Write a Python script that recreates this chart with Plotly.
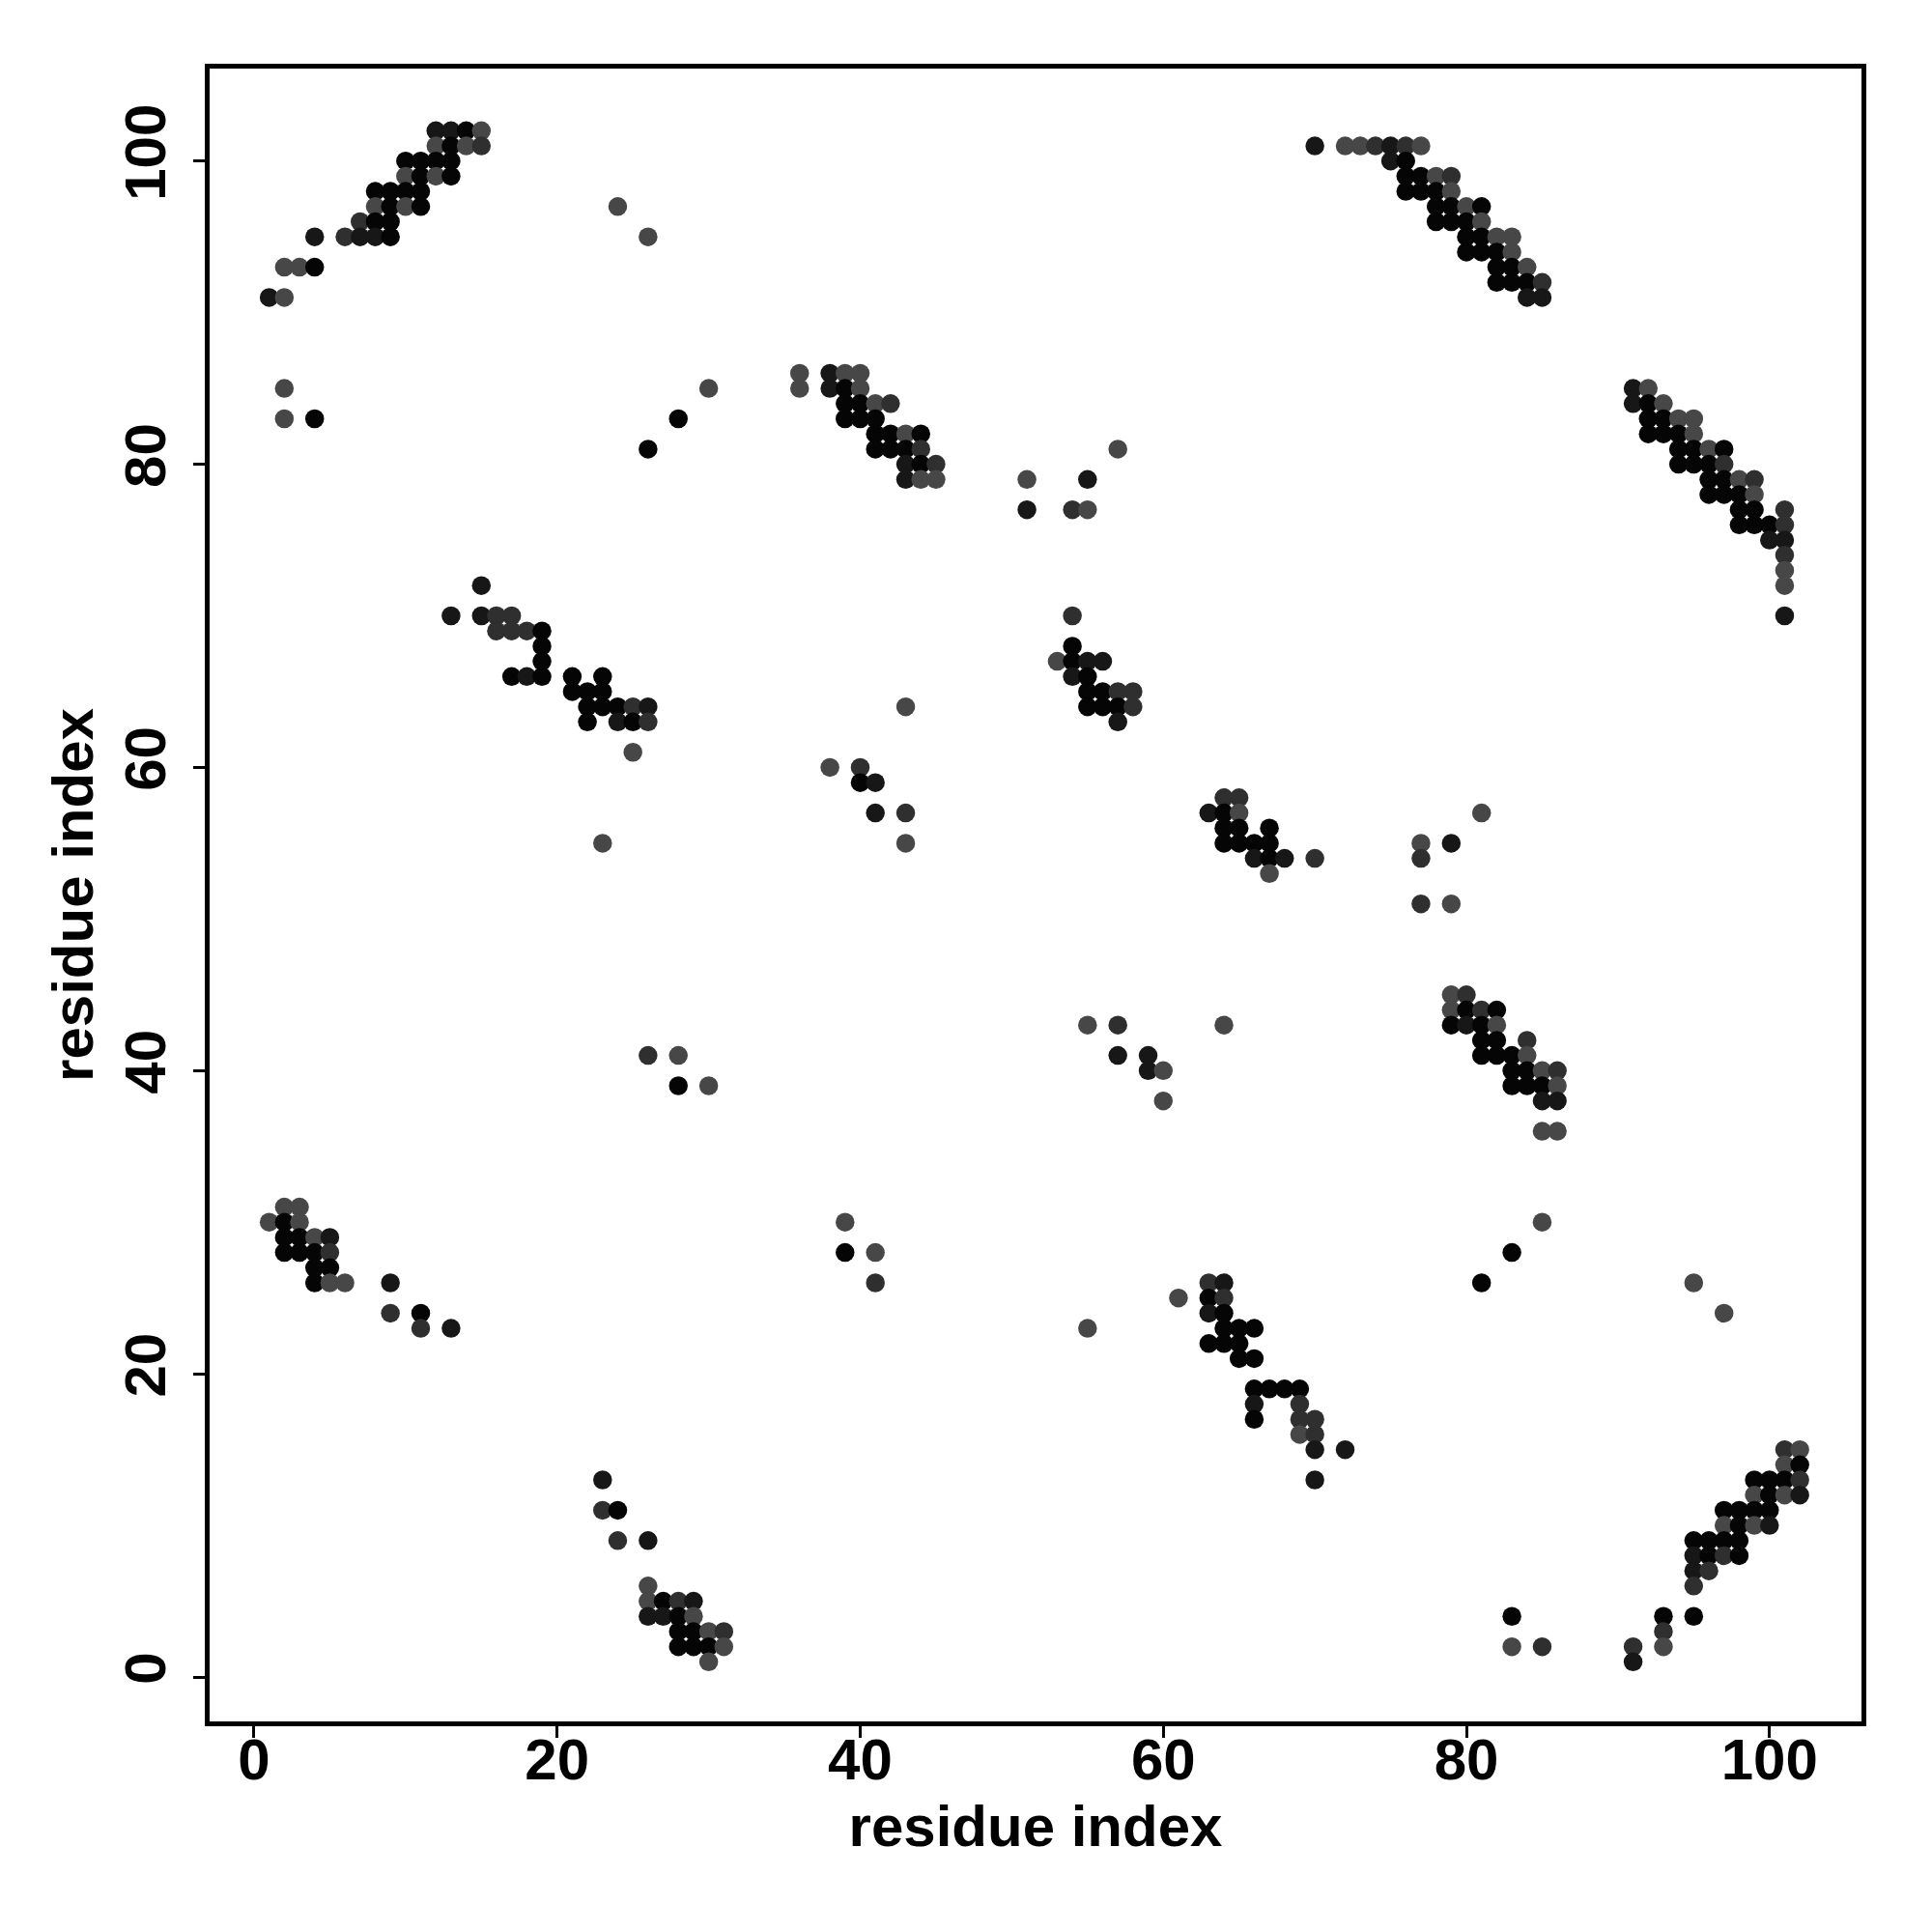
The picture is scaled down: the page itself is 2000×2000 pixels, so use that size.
import plotly.graph_objects as go

# Contact score levels read from the shading of each dot
K, D, M, G = 1.0, 0.85, 0.65, 0.45

# (residue i, residue j, score) per cluster
top_left = [
    (12,102,D),(13,102,D),(14,102,K),(15,102,G),
    (12,101,G),(13,101,K),(14,101,G),(15,101,M),
    (10,100,K),(11,100,K),(12,100,K),(13,100,K),
    (10,99,G),(11,99,K),(12,99,G),(13,99,K),
    (8,98,K),(9,98,K),(10,98,K),(11,98,K),
    (8,97,G),(9,97,K),(10,97,G),(11,97,K),
    (7,96,M),(8,96,K),(9,96,K),
    (4,95,D),(6,95,M),(7,95,D),(8,95,D),(9,95,K),
    (2,93,G),(3,93,G),(4,93,K),
    (1,91,D),(2,91,G),
    (2,85,G),(2,83,G),(4,83,K),
    (24,97,G),(26,95,G),(26,81,K),(30,85,G),(28,83,K),
]
upper_mid = [
    (36,86,G),(38,86,D),(39,86,G),(40,86,G),
    (36,85,G),(38,85,D),(39,85,K),(40,85,G),
    (39,84,K),(40,84,K),(41,84,G),(42,84,M),
    (39,83,K),(40,83,K),(41,83,K),
    (41,82,K),(42,82,K),(43,82,G),(44,82,K),
    (41,81,K),(42,81,K),(43,81,K),(44,81,M),
    (43,80,D),(44,80,K),(45,80,M),
    (43,79,D),(44,79,G),(45,79,G),
    (51,79,G),(51,77,D),(55,79,D),(54,77,M),(55,77,G),(57,81,G),
]
top_right = [
    (70,101,D),(72,101,G),(73,101,G),(74,101,M),(75,101,D),(76,101,M),(77,101,G),
    (75,100,D),(76,100,K),
    (76,99,K),(77,99,K),(78,99,G),(79,99,M),
    (76,98,K),(77,98,K),(78,98,K),(79,98,G),
    (78,97,K),(79,97,K),(80,97,G),(81,97,K),
    (78,96,K),(79,96,K),(80,96,K),(81,96,G),
    (80,95,K),(81,95,K),(82,95,G),(83,95,G),
    (80,94,K),(81,94,K),(82,94,K),(83,94,G),
    (82,93,K),(83,93,K),(84,93,G),
    (82,92,K),(83,92,K),(84,92,K),(85,92,M),
    (84,91,D),(85,91,D),
]
right_upper = [
    (91,85,D),(92,85,G),
    (91,84,D),(92,84,K),(93,84,G),
    (92,83,K),(93,83,K),(94,83,G),(95,83,G),
    (92,82,K),(93,82,K),(94,82,K),(95,82,G),
    (94,81,K),(95,81,K),(96,81,G),(97,81,K),
    (94,80,K),(95,80,K),(96,80,K),(97,80,M),
    (96,79,K),(97,79,K),(98,79,G),(99,79,M),
    (96,78,K),(97,78,K),(98,78,K),(99,78,G),
    (98,77,K),(99,77,K),(101,77,M),
    (98,76,K),(99,76,K),(100,76,K),(101,76,M),
    (100,75,D),(101,75,D),
    (101,74,M),(101,73,G),(101,72,G),(101,70,D),
]
left_mid = [
    (15,72,D),
    (13,70,D),(15,70,D),(16,70,M),(17,70,M),
    (16,69,M),(17,69,M),(18,69,M),(19,69,K),
    (19,68,K),(19,67,K),
    (17,66,K),(18,66,D),(19,66,K),(21,66,K),(23,66,K),
    (21,65,K),(22,65,K),(23,65,K),
    (22,64,K),(23,64,K),(24,64,K),(25,64,M),(26,64,D),
    (22,63,K),(24,63,D),(25,63,K),(26,63,M),
    (25,61,G),(23,55,G),
    (43,64,G),
    (38,60,G),(40,60,M),(40,59,K),(41,59,D),(41,57,D),(43,57,M),(43,55,G),
    (26,41,M),(28,41,G),(28,39,K),(30,39,G),
]
center = [
    (54,70,M),(54,68,K),
    (53,67,G),(54,67,K),(55,67,D),(56,67,D),
    (54,66,D),(55,66,K),
    (55,65,K),(56,65,K),(57,65,M),(58,65,M),
    (55,64,K),(56,64,K),(57,64,K),(58,64,M),
    (57,63,D),
    (64,58,M),(65,58,M),
    (63,57,D),(64,57,K),(65,57,G),
    (64,56,K),(65,56,K),(67,56,K),
    (64,55,K),(65,55,K),(66,55,K),(67,55,K),
    (66,54,D),(67,54,K),(68,54,D),(70,54,M),
    (67,53,G),
    (55,43,G),(57,43,M),(64,43,G),
    (57,41,D),(59,41,D),(59,40,D),(60,40,G),(60,38,G),
]
right_mid = [
    (81,57,G),(77,55,G),(79,55,D),(77,54,M),(77,51,M),(79,51,G),
    (79,45,G),(80,45,M),
    (79,44,G),(80,44,K),(81,44,M),(82,44,K),
    (79,43,K),(80,43,D),(81,43,K),(82,43,G),
    (81,42,K),(82,42,K),(84,42,M),
    (81,41,K),(82,41,K),(83,41,K),(84,41,G),
    (83,40,K),(84,40,K),(85,40,G),(86,40,M),
    (83,39,K),(84,39,K),(85,39,K),(86,39,G),
    (85,38,D),(86,38,D),
    (85,36,G),(86,36,G),
]
bottom_left = [
    (2,31,G),(3,31,G),
    (1,30,G),(2,30,K),(3,30,G),
    (2,29,K),(3,29,K),(4,29,G),(5,29,D),
    (2,28,K),(3,28,K),(4,28,K),(5,28,M),
    (4,27,K),(5,27,K),
    (4,26,K),(5,26,G),(6,26,G),(9,26,D),
    (9,24,M),(11,24,K),
    (11,23,M),(13,23,D),
    (23,13,D),(23,11,M),(24,11,K),(24,9,M),(26,9,D),
    (26,6,G),(26,5,G),(27,5,K),(28,5,M),(29,5,D),
    (26,4,D),(27,4,D),(28,4,K),(29,4,G),
    (28,3,K),(29,3,K),(30,3,G),(31,3,M),
    (28,2,K),(29,2,K),(30,2,K),(31,2,G),
    (30,1,G),
    (39,30,G),(39,28,K),(41,28,G),(41,26,M),
]
bottom_mid = [
    (55,23,G),(61,25,G),
    (63,26,M),(64,26,D),
    (63,25,K),(64,25,M),
    (63,24,D),(64,24,K),
    (64,23,K),(65,23,K),(66,23,K),
    (63,22,K),(64,22,K),(65,22,K),
    (65,21,K),(66,21,K),
    (66,19,K),(67,19,K),(68,19,K),(69,19,K),
    (66,18,D),(69,18,M),
    (66,17,K),(69,17,M),(70,17,M),
    (69,16,G),(70,16,M),
    (70,15,D),(72,15,D),
    (70,13,D),
]
bottom_right = [
    (85,30,G),(83,28,K),(81,26,K),(95,26,G),(97,24,G),
    (101,15,M),(102,15,G),
    (101,14,G),(102,14,K),
    (99,13,K),(100,13,K),(101,13,K),(102,13,M),
    (99,12,G),(100,12,K),(101,12,G),(102,12,D),
    (97,11,K),(98,11,K),(99,11,K),(100,11,K),
    (97,10,G),(98,10,K),(99,10,G),(100,10,D),
    (95,9,K),(96,9,K),(97,9,K),(98,9,K),
    (95,8,D),(96,8,K),(97,8,M),(98,8,K),
    (95,7,D),(96,7,M),
    (95,6,M),
    (83,4,K),(93,4,K),(95,4,K),
    (93,3,M),
    (83,2,G),(85,2,M),(91,2,M),(93,2,G),
    (91,1,D),
]

tick_values = [0, 20, 40, 60, 80, 100]
axis_label = "residue index"

contacts = (top_left + upper_mid + top_right + right_upper + left_mid + center
            + right_mid + bottom_left + bottom_mid + bottom_right)
xs = [c[0] for c in contacts]
ys = [c[1] for c in contacts]
scores = [c[2] for c in contacts]

fig = go.Figure(go.Scatter(
    x=xs, y=ys, mode="markers", showlegend=False,
    marker=dict(size=19.5, color=scores, cmin=0.45, cmax=1.0,
                colorscale=[[0, "#474747"], [1, "#050505"]],
                line=dict(width=0)),
))

font_main = dict(family="Liberation Sans, Arial, sans-serif", size=60, color="black", weight="bold")
axis_common = dict(
    tickvals=tick_values, ticks="outside", ticklen=12, tickwidth=3, tickcolor="black",
    showline=True, linewidth=4.5, linecolor="black", mirror=True,
    showgrid=False, zeroline=False, tickfont=font_main, automargin=False,
)
fig.update_layout(
    width=2000, height=2000,
    margin=dict(l=209, r=81, t=63, b=226),
    paper_bgcolor="white", plot_bgcolor="white",
    xaxis=dict(range=[-2.93, 106.07], title=dict(text=axis_label, font=font_main, standoff=17),
               ticklabelstandoff=-29, **axis_common),
    yaxis=dict(range=[-2.93, 106.1], title=dict(text=axis_label, font=font_main, standoff=3),
               ticklabelstandoff=5, tickangle=-90, **axis_common),
)
fig.write_html("out.html")
